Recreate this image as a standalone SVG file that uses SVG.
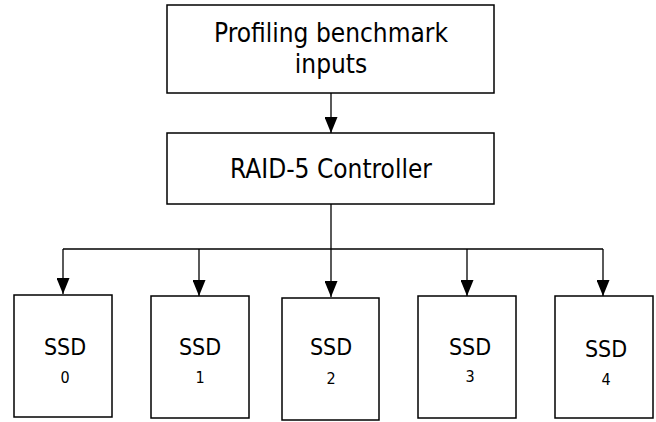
<svg xmlns="http://www.w3.org/2000/svg" width="656" height="422" viewBox="0 0 656 422">
  <style>
    .box { fill: #fff; stroke: #000; stroke-width: 1.5; }
    .wire { fill: none; stroke: #000; stroke-width: 1.3; }
    .big { font-family: "DejaVu Sans Condensed", "DejaVu Sans", sans-serif; font-size: 26px; fill: #000; text-anchor: middle; }
    .ssd { font-family: "DejaVu Sans Condensed", "DejaVu Sans", sans-serif; font-size: 23px; fill: #000; text-anchor: middle; }
    .idx { font-family: "DejaVu Sans Condensed", "DejaVu Sans", sans-serif; font-size: 16px; fill: #000; text-anchor: middle; }
  </style>
  <defs>
    <!-- filled triangular arrowhead, sized in user units -->
    <marker id="arrow" markerUnits="userSpaceOnUse" markerWidth="16" markerHeight="13" refX="16" refY="6.5" orient="auto" viewBox="0 0 16 13">
      <path d="M0,0 L16,6.5 L0,13 Z" fill="#000"/>
    </marker>
  </defs>
  <rect width="656" height="422" fill="#fff"/>

  <g id="connectors">
    <line class="wire" x1="331" y1="93" x2="331" y2="133" marker-end="url(#arrow)"/>
    <line class="wire" x1="331" y1="204" x2="331" y2="297" marker-end="url(#arrow)"/>
    <line class="wire" x1="63" y1="249" x2="603" y2="249"/>
    <line class="wire" x1="63" y1="249" x2="63" y2="294" marker-end="url(#arrow)"/>
    <line class="wire" x1="199" y1="249" x2="199" y2="296" marker-end="url(#arrow)"/>
    <line class="wire" x1="467" y1="249" x2="467" y2="296" marker-end="url(#arrow)"/>
    <line class="wire" x1="603" y1="249" x2="603" y2="296" marker-end="url(#arrow)"/>
  </g>

  <g id="inputs">
    <rect class="box" x="167" y="5" width="327" height="88"/>
    <text class="big" x="331" y="42">Profiling benchmark</text>
    <text class="big" x="331" y="73">inputs</text>
  </g>

  <g id="controller">
    <rect class="box" x="167" y="133" width="327" height="71"/>
    <text class="big" x="331" y="178">RAID-5 Controller</text>
  </g>

  <g id="ssd0">
    <rect class="box" x="14" y="295" width="98" height="122"/>
    <text class="ssd" x="65" y="355">SSD</text>
    <text class="idx" x="65" y="383">0</text>
  </g>

  <g id="ssd1">
    <rect class="box" x="151" y="296" width="98" height="122"/>
    <text class="ssd" x="200" y="355">SSD</text>
    <text class="idx" x="200" y="383">1</text>
  </g>

  <g id="ssd2">
    <rect class="box" x="282" y="298" width="97" height="122"/>
    <text class="ssd" x="331" y="355">SSD</text>
    <text class="idx" x="331" y="384">2</text>
  </g>

  <g id="ssd3">
    <rect class="box" x="418" y="296" width="98" height="122"/>
    <text class="ssd" x="470" y="355">SSD</text>
    <text class="idx" x="470" y="382">3</text>
  </g>

  <g id="ssd4">
    <rect class="box" x="555" y="296" width="98" height="122"/>
    <text class="ssd" x="606" y="357">SSD</text>
    <text class="idx" x="606" y="385">4</text>
  </g>
</svg>
